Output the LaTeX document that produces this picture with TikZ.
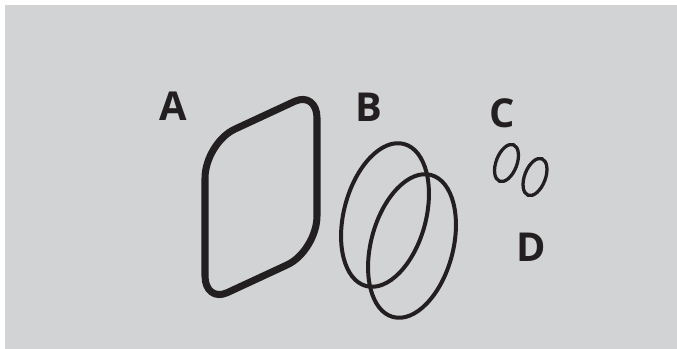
\documentclass[tikz,border=0pt]{standalone}
\usepackage{fontspec}
\setsansfont{Open Sans}
\usetikzlibrary{calc}
\definecolor{panel}{HTML}{D1D3D4}
\definecolor{ink}{HTML}{231F20}
\tikzset{
  gasket/.style={draw=ink,line width=6pt,line join=round},     % part A
  oring/.style={draw=ink,line width=3.4pt},                    % part B
  smallring/.style={draw=ink,line width=2.8pt},                % part C
  partlbl/.style={font=\sffamily\bfseries\fontsize{34}{34}\selectfont,text=ink,
    inner sep=0pt,text height=24.3pt,text depth=0pt},
}

\begin{document}
\begin{tikzpicture}[x=0.03cm,y=-0.03cm]
  \useasboundingbox (0,0) rectangle (677,349);
  \fill[white] (0,0) rectangle (677,349);
  \fill[panel] (5,5) rectangle (677,349);
  % A: flat gasket
  \coordinate (tl) at (205,143); \coordinate (tr) at (317,91);
  \coordinate (br) at (317,251); \coordinate (bl) at (205,303);
  \coordinate (tr1) at ($(tr)!21pt!(tl)$); \coordinate (tr2) at ($(tr)!23pt!(br)$);
  \coordinate (br1) at ($(br)!30pt!(tr)$); \coordinate (br2) at ($(br)!28pt!(bl)$);
  \coordinate (bl1) at ($(bl)!21pt!(br)$); \coordinate (bl2) at ($(bl)!23pt!(tl)$);
  \coordinate (tl1) at ($(tl)!30pt!(bl)$); \coordinate (tl2) at ($(tl)!28pt!(tr)$);
  \draw[gasket] ($(tl)!0.5!(tr)$) -- (tr1)
      .. controls ($(tr1)!0.55!(tr)$) and ($(tr2)!0.55!(tr)$) .. (tr2)
    -- (br1) .. controls ($(br1)!0.55!(br)$) and ($(br2)!0.55!(br)$) .. (br2)
    -- (bl1) .. controls ($(bl1)!0.55!(bl)$) and ($(bl2)!0.55!(bl)$) .. (bl2)
    -- (tl1) .. controls ($(tl1)!0.55!(tl)$) and ($(tl2)!0.55!(tl)$) .. (tl2) -- cycle;
  % B: two o-rings
  \draw[oring,rotate around={-15:(385,215)}] (385,215) ellipse [x radius=41,y radius=73.5];
  \draw[oring,rotate around={-15:(412,246)}] (412,246) ellipse [x radius=41,y radius=73.5];
  % C: small rings
  \draw[smallring,rotate around={-21:(506.5,163)}] (506.5,163) ellipse [x radius=10.4,y radius=19.5];
  \draw[smallring,rotate around={-21:(535,177)}] (535,177) ellipse [x radius=10.4,y radius=19.5];
  % labels
  \node[partlbl] (lblA) at (173,106) {A};
  \node[partlbl] (lblB) at (369,107) {B};
  \node[partlbl] (lblC) at (502,113) {C};
  \node[partlbl] (lblD) at (531,247) {D};
\end{tikzpicture}
\end{document}
